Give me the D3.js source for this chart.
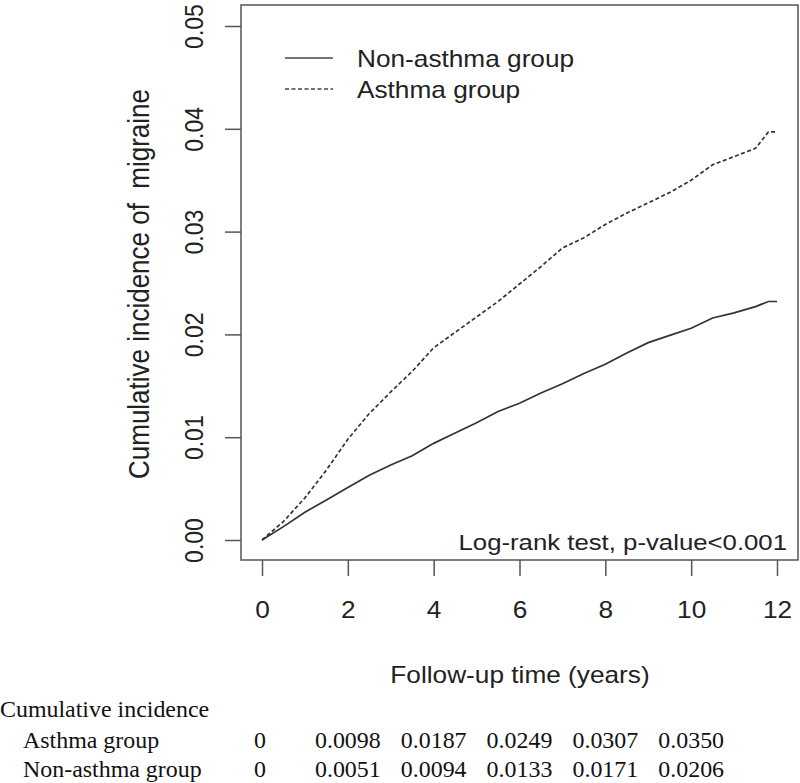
<!DOCTYPE html>
<html>
<head>
<meta charset="utf-8">
<script src="https://cdn.jsdelivr.net/npm/d3@7"></script>
<style>
  html, body { margin: 0; padding: 0; background: #fff; }
  svg { display: block; }
</style>
</head>
<body>
<svg id="chart" width="800" height="783"></svg>
<script>
// ---- data ----
const times = [0, 0.5, 1, 1.5, 2, 2.5, 3, 3.5, 4, 4.5, 5, 5.5, 6, 6.5, 7, 7.5, 8, 8.5, 9, 9.5, 10, 10.5, 11, 11.5, 11.8, 12];
const asthmaValues = [0, 0.0018, 0.0041, 0.0068, 0.0098, 0.0123, 0.0144, 0.0164, 0.0187, 0.0202, 0.0217, 0.0232, 0.0249, 0.0266, 0.0284, 0.0294, 0.0307, 0.0318, 0.0328, 0.0338, 0.0350, 0.0365, 0.0373, 0.0381, 0.0397, 0.0397];
const nonAsthmaValues = [0, 0.0013, 0.0027, 0.0039, 0.0051, 0.0063, 0.0073, 0.0082, 0.0094, 0.0104, 0.0114, 0.0125, 0.0133, 0.0143, 0.0152, 0.0162, 0.0171, 0.0182, 0.0192, 0.0199, 0.0206, 0.0216, 0.0221, 0.0227, 0.0232, 0.0232];
const xTicks = [0, 2, 4, 6, 8, 10, 12];
const yTicks = [0, 0.01, 0.02, 0.03, 0.04, 0.05];
const seriesNames = ["Non-asthma group", "Asthma group"];
const tableTitle = "Cumulative incidence";
const tableTimes = [0, 2, 4, 6, 8, 10];
const tableAsthma = ["0", "0.0098", "0.0187", "0.0249", "0.0307", "0.0350"];
const tableNonAsthma = ["0", "0.0051", "0.0094", "0.0133", "0.0171", "0.0206"];

// ---- layout ----
const svg = d3.select("#chart");
const box = { left: 241, top: 5, right: 798, bottom: 560 };
const x = d3.scaleLinear().domain([0, 12]).range([262, 777]);
const y = d3.scaleLinear().domain([0, 0.05]).range([540, 26]);
const sans = "'Liberation Sans', Arial, Helvetica, sans-serif";
const serif = "'Liberation Serif', 'Times New Roman', serif";
const ink = "#222";
const axisCol = "#555";
const sxSans = 1.14, sxSerif = 1.04;
const fs = 23;

function hText(px, py, str, anchor, opts = {}) {
  return svg.append("text")
    .attr("transform", `translate(${px},${py}) scale(${opts.sx || sxSans},1)`)
    .attr("text-anchor", anchor || "start")
    .attr("font-family", opts.family || sans)
    .attr("font-size", opts.size || fs)
    .attr("fill", opts.fill || ink)
    .text(str);
}

// box
svg.append("rect")
  .attr("x", box.left).attr("y", box.top)
  .attr("width", box.right - box.left).attr("height", box.bottom - box.top)
  .attr("fill", "none").attr("stroke", axisCol).attr("stroke-width", 1.5);

// x axis
const xAxis = d3.axisBottom(x).tickValues(xTicks).tickSize(16).tickFormat(d3.format("d"));
const gx = svg.append("g").attr("transform", `translate(0,${box.bottom})`).call(xAxis);
gx.select(".domain").remove();
gx.selectAll(".tick line").attr("stroke", axisCol).attr("stroke-width", 1.5);
gx.selectAll(".tick text").attr("font-family", sans).attr("font-size", fs).attr("fill", ink)
  .attr("dy", null).attr("y", null)
  .attr("transform", `translate(0,58) scale(${sxSans},1)`);

// y axis
const yAxis = d3.axisLeft(y).tickValues(yTicks).tickSize(16).tickFormat(d3.format(".2f"));
const gy = svg.append("g").attr("transform", `translate(${box.left},0)`).call(yAxis);
gy.select(".domain").remove();
gy.selectAll(".tick line").attr("stroke", axisCol).attr("stroke-width", 1.5);
gy.selectAll(".tick text")
  .attr("font-family", sans).attr("font-size", fs).attr("fill", ink)
  .attr("x", null).attr("dy", null).attr("y", null)
  .attr("transform", `translate(-38,0) scale(${sxSans},1) rotate(-90)`)
  .attr("text-anchor", "middle");

// axis titles
hText(520, 683, "Follow-up time (years)", "middle");
svg.append("text")
  .attr("transform", `translate(149,284) scale(${sxSans},1) rotate(-90)`)
  .attr("text-anchor", "middle").attr("font-family", sans).attr("font-size", 26).attr("fill", ink)
  .attr("xml:space", "preserve")
  .style("white-space", "pre")
  .text("Cumulative incidence of  migraine");

// curves
const line = d3.line().x(d => x(d[0])).y(d => y(d[1]));
const nonData = times.map((t, i) => [t, nonAsthmaValues[i]]);
const asData = times.map((t, i) => [t, asthmaValues[i]]);
svg.append("path").datum(nonData).attr("d", line)
  .attr("fill", "none").attr("stroke", "#333").attr("stroke-width", 1.7);
svg.append("path").datum(asData).attr("d", line)
  .attr("fill", "none").attr("stroke", "#333").attr("stroke-width", 1.7)
  .attr("stroke-dasharray", "4,2.5");

// legend
const legY = [58, 89];
seriesNames.forEach((name, i) => {
  svg.append("line")
    .attr("x1", 285).attr("x2", 333).attr("y1", legY[i]).attr("y2", legY[i])
    .attr("stroke", "#444").attr("stroke-width", 1.4)
    .attr("stroke-dasharray", i === 1 ? "4,2.5" : null);
  hText(357, legY[i] + 9, name, "start");
});

// log-rank annotation
hText(787, 550, "Log-rank test, p-value<0.001", "end", { sx: 1.12 });

// table
const tOpts = { family: serif, sx: sxSerif, fill: "#111", size: 23 };
hText(0, 717, tableTitle, "start", tOpts);
const rows = [["Asthma group", tableAsthma, 748], ["Non-asthma group", tableNonAsthma, 777]];
rows.forEach(([label, vals, yy]) => {
  hText(23, yy, label, "start", tOpts);
  vals.forEach((v, i) => {
    hText(x(tableTimes[i]) - (i === 0 ? 2 : 0), yy, v, "middle", tOpts);
  });
});
</script>
</body>
</html>
